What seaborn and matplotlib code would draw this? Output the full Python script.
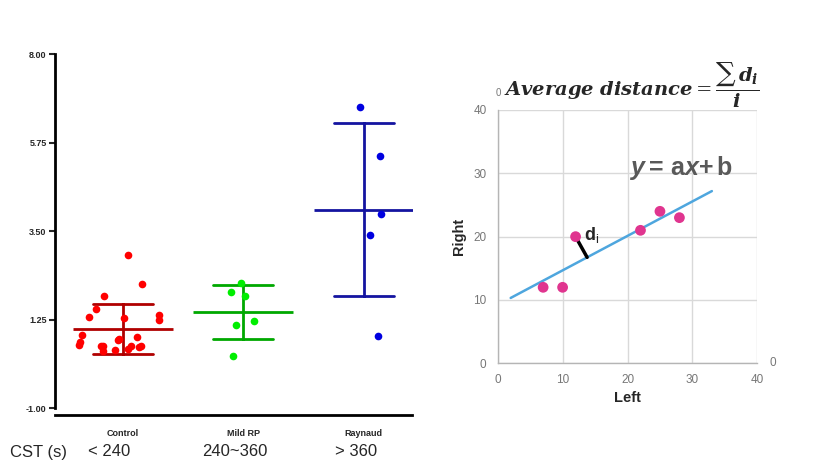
import numpy as np
import pandas as pd
import seaborn as sns
import matplotlib.pyplot as plt

# left panel: values
groups = ["Control", "Mild RP", "Raynaud"]
cst_labels = ["< 240", "240~360", "> 360"]
control = [2.90, 2.14, 1.86, 1.28, 1.24, 1.36, 1.31, 1.52, 0.85, 0.72, 0.67,
           0.75, 0.80, 0.58, 0.55, 0.57, 0.60, 0.49, 0.57, 0.47, 0.44, 0.58]
mild = [2.17, 1.94, 1.85, 1.21, 1.11, 0.32]
raynaud = [6.64, 5.41, 3.94, 3.39, 0.83]
y_ticks = [-1.00, 1.25, 3.50, 5.75, 8.00]

# right panel: left vs right scatter
left_vals = [7, 10, 12, 22, 25, 28]
right_vals = [12, 12, 20, 21, 24, 23]
trend_x = [2, 33]
di_index = 2

point_colors = ["#ff0000", "#00ee00", "#0000e0"]
bar_colors = ["#b00000", "#00a800", "#1414a0"]
jitters = [0.38, 0.15, 0.15]

df = pd.DataFrame({
    "group": ["Control"] * len(control) + ["Mild RP"] * len(mild) + ["Raynaud"] * len(raynaud),
    "value": control + mild + raynaud,
})

sns.set_style("white")
plt.rcParams["font.family"] = ["Liberation Sans", "DejaVu Sans"]
plt.rcParams["mathtext.fontset"] = "custom"
plt.rcParams["mathtext.rm"] = "Liberation Sans"
plt.rcParams["mathtext.bf"] = "Liberation Sans:bold"
plt.rcParams["mathtext.it"] = "Liberation Sans:italic"
plt.rcParams["mathtext.bfit"] = "Liberation Sans:italic:bold"

W, H = 815, 471
fig = plt.figure(figsize=(W / 100, H / 100), dpi=100)

# ---- left: strip + mean/SD ----
ax1 = fig.add_axes([55 / W, 1 - 408 / H, (412 - 55) / W, (408 - 54) / H])

sns.pointplot(data=df, x="group", y="value", order=groups, hue="group",
              hue_order=groups, palette=bar_colors, errorbar="sd", capsize=0.5,
              markers="_", linestyles="none", markersize=72, markeredgewidth=2,
              err_kws={"linewidth": 2}, legend=False, ax=ax1)

np.random.seed(3)
for g, pc, j in zip(groups, point_colors, jitters):
    sns.stripplot(data=df[df["group"] == g], x="group", y="value", order=groups,
                  color=pc, jitter=j, size=5.5, linewidth=0, zorder=3, ax=ax1)

ax1.set_xlim(-0.564, 2.40)
ax1.set_ylim(-1, 8)
ax1.set_yticks(y_ticks)
ax1.set_yticklabels([f"{t:.2f}" for t in y_ticks])
ax1.set_xlabel("")
ax1.set_ylabel("")
for s in ["top", "right"]:
    ax1.spines[s].set_visible(False)
ax1.spines["left"].set_linewidth(2)
ax1.spines["left"].set_color("black")
ax1.spines["bottom"].set_linewidth(2)
ax1.spines["bottom"].set_color("black")
ax1.spines["bottom"].set_position(("outward", 5))
ax1.tick_params(axis="y", length=4, width=1.5, pad=2, labelsize=6.5, left=True)
ax1.tick_params(axis="x", length=0, pad=10, labelsize=6.5)
for lbl in ax1.get_xticklabels() + ax1.get_yticklabels():
    lbl.set_fontweight("bold")

fig.text(10 / W, 1 - 452 / H, "CST (s)", fontsize=12, ha="left", va="center")
for xc, lab in zip([109, 235, 356], cst_labels):
    fig.text(xc / W, 1 - 452 / H, lab, fontsize=12, ha="center", va="center")

# ---- right: scatter with fitted line ----
ax2 = fig.add_axes([497.7 / W, 1 - 363.3 / H, (757.3 - 497.7) / W, (363.3 - 110) / H])
slope, intercept = np.polyfit(left_vals, right_vals, 1)
tx = np.array(trend_x, dtype=float)
sns.lineplot(x=tx, y=slope * tx + intercept, color="#4ea6de", linewidth=1.8, ax=ax2)

px, py = left_vals[di_index], right_vals[di_index]
t = (px + slope * (py - intercept)) / (1 + slope ** 2)
ax2.plot([px, t], [py, slope * t + intercept], color="black", linewidth=2.5, zorder=3)

sns.scatterplot(x=left_vals, y=right_vals, color="#e0358f", s=60, edgecolor="none",
                zorder=4, ax=ax2)

ax2.text(13.3, 20.3, r"$\mathbf{d}_\mathrm{i}$", fontsize=13, ha="left", va="center")
ax2.text(20.2, 30.8, r"$\mathbfit{y}\mathbf{=\,a}\mathbfit{x}\mathbf{+\,b}$", fontsize=18,
         color="#595959", ha="left", va="center")

ax2.set_xlim(0, 40)
ax2.set_ylim(0, 40)
ax2.set_xticks([0, 10, 20, 30, 40])
ax2.set_yticks([0, 10, 20, 30, 40])
ax2.grid(True, color="#d9d9d9", linewidth=1)
for s in ["top", "right"]:
    ax2.spines[s].set_visible(False)
for s in ["left", "bottom"]:
    ax2.spines[s].set_color("#b5b5b5")
    ax2.spines[s].set_linewidth(1)
ax2.tick_params(length=0, labelsize=8.5, labelcolor="#777777", pad=8)
ax2.set_xlabel("Left", fontsize=10.5, fontweight="bold", labelpad=3)
ax2.set_ylabel("Right", fontsize=10.5, fontweight="bold", labelpad=5)

fig.text(498 / W, 1 - 93 / H, "0", fontsize=7, color="#777777", ha="center", va="center")
fig.text(773 / W, 1 - 363 / H, "0", fontsize=8.5, color="#777777", ha="center", va="center")

fig.text(504 / W, 1 - 85 / H,
         r"$\mathbfit{Average\ distance} = \dfrac{\sum\, \mathbfit{d}_{\mathbfit{i}}}{\mathbfit{i}}$",
         fontsize=14, math_fontfamily="dejavuserif", ha="left", va="center")

fig.savefig("out.png", dpi=100)
